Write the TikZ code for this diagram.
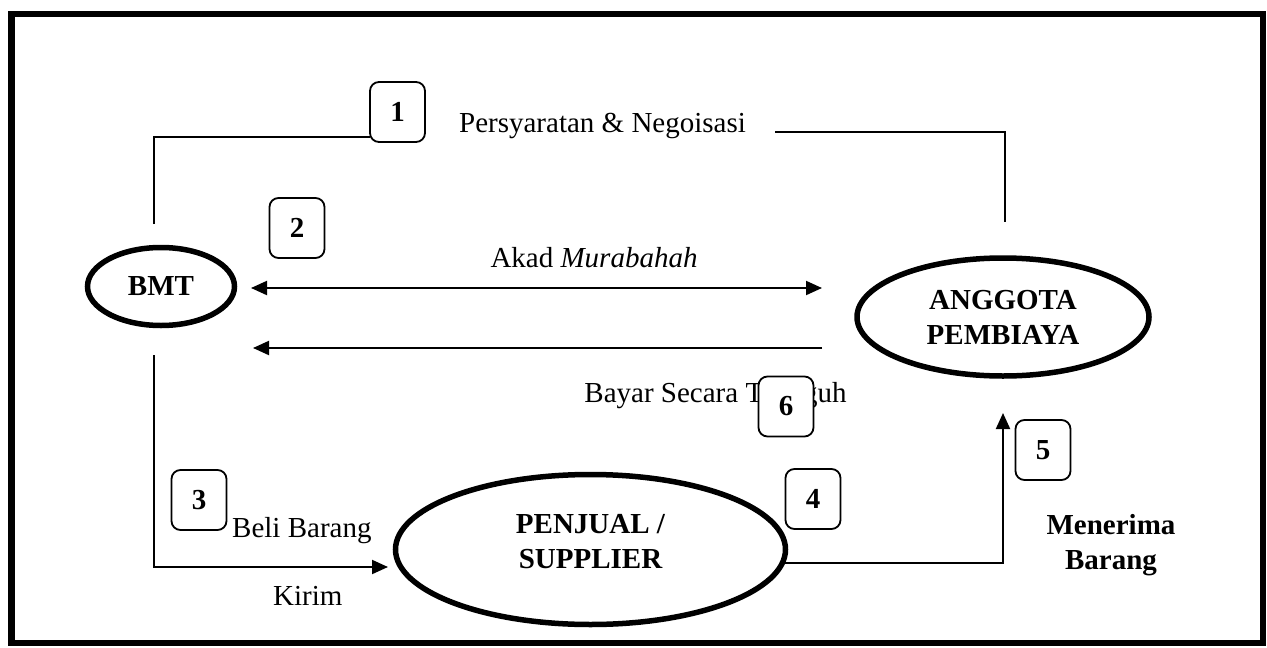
\documentclass[tikz,border=0pt]{standalone}
\usepackage{fontspec}
\setmainfont{Liberation Serif}
\usetikzlibrary{shapes.geometric,arrows.meta}
\begin{document}
\begin{tikzpicture}[x=1pt,y=-1pt,
  every node/.style={font=\fontsize{29}{35}\selectfont},
  ent/.style={ellipse,draw,line width=5.5pt,inner sep=0pt,font=\fontsize{29}{35}\selectfont\bfseries,align=center},
  numbox/.style={draw,rounded corners=9pt,line width=1.8pt,fill=white,minimum width=55pt,minimum height=60pt,inner sep=0pt,font=\fontsize{29}{35}\selectfont\bfseries},
  conn/.style={line width=2pt},
  arr/.style={conn,-{Triangle[length=16pt,width=14pt]}},
  dblarr/.style={conn,{Triangle[length=16pt,width=14pt]}-{Triangle[length=16pt,width=14pt]}},
  lbl/.style={inner sep=0pt,anchor=base},
  blbl/.style={inner sep=0pt,align=center,font=\fontsize{29}{35}\selectfont\bfseries}
]
\useasboundingbox (0,0) rectangle (1267,648);
\fill[white] (0,0) rectangle (1267,648);
\draw[line width=6.5pt] (11.5,14) rectangle (1263,643);

% entities
\node[ent,minimum width=147pt,minimum height=78pt] (bmt) at (161,286.5) {BMT};
\node[ent,minimum width=292pt,minimum height=118pt] (anggota) at (1003,317) {ANGGOTA\\PEMBIAYA};
\node[ent,minimum width=390pt,minimum height=150pt,text depth=16pt] (penjual) at (590.5,549.5) {PENJUAL /\\SUPPLIER};

% labels
\node[lbl] (tpers) at (602.5,132) {Persyaratan \& Negoisasi};
\node[lbl] (takad) at (594,267) {Akad \textit{Murabahah}};
\node[lbl] (tbayar) at (715.5,402) {Bayar Secara Tangguh};
\node[lbl,anchor=base west] (tbeli) at (232,537) {Beli Barang};
\node[lbl,anchor=base west] (tkirim) at (273,605) {Kirim};
\node[blbl] (tmenerima) at (1111,545) {Menerima\\Barang};

% number boxes
\node[numbox] (b1) at (397.5,112) {1};
\node[numbox] (b2) at (297,228) {2};
\node[numbox] (b3) at (199,500) {3};
\node[numbox] (b4) at (813,499) {4};
\node[numbox] (b5) at (1043,450) {5};
\node[numbox] (b6) at (786,406.5) {6};

% connector end points
\coordinate (t1) at (154,224);
\coordinate (e1) at (370,137);
\coordinate (r1) at (775,132);
\coordinate (r2) at (1005,222);
\coordinate (a1) at (251,288);
\coordinate (a2) at (822,288);
\coordinate (p1) at (822,348);
\coordinate (p2) at (253,348);
\coordinate (t2) at (154,355);
\coordinate (k1) at (388,567);
\coordinate (m1) at (1003,413);

% connectors
\draw[conn] (t1) |- (e1);
\draw[conn] (r1) -| (r2);
\draw[dblarr] (a1) -- (a2);
\draw[arr] (p1) -- (p2);
\draw[arr] (t2) |- (k1);
\draw[arr] (penjual.-4) -| (m1);
\end{tikzpicture}
\end{document}
